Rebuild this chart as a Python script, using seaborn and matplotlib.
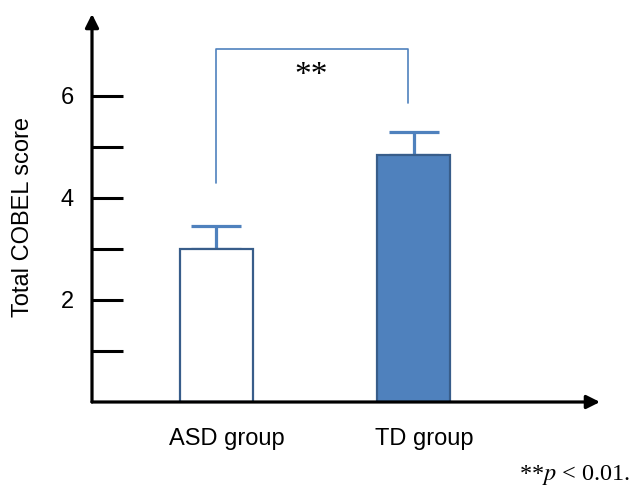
import matplotlib
matplotlib.use("Agg")
import matplotlib.pyplot as plt
import matplotlib.transforms as mtransforms
import seaborn as sns
import pandas as pd

# ---- data ----
groups = ["ASD group", "TD group"]
means = [3.0, 4.84]
errors = [0.45, 0.45]
y_major = [2, 4, 6]
y_minor = [1, 3, 5]

sns.set_theme(style="white")
plt.rcParams["font.family"] = ["Liberation Sans", "DejaVu Sans"]
plt.rcParams["mathtext.fontset"] = "stix"

df = pd.DataFrame({"group": groups, "score": means})

fig = plt.figure(figsize=(6.33, 4.86), dpi=100)
ax = fig.add_axes([92 / 633, 84 / 486, 508 / 633, 388 / 486])

sns.barplot(data=df, x="group", y="score", hue="group",
            palette=["white", "#4F81BD"], saturation=1, width=0.37,
            edgecolor="#385D8A", linewidth=1.6, errorbar=None,
            legend=False, ax=ax, zorder=2)
ax.errorbar(x=[0, 1], y=means, yerr=[[0, 0], errors], fmt="none",
            ecolor="#4F81BD", elinewidth=2.3, capsize=18, capthick=2.3,
            zorder=1)

ax.set_xlim(-0.63, 1.942)
ax.set_ylim(0, 7.6)

for s in ax.spines.values():
    s.set_visible(False)
arrow_kw = dict(arrowstyle="-|>", lw=2.3, color="black", mutation_scale=20,
                shrinkA=0, shrinkB=0)
ax.annotate("", xy=(0, 1), xytext=(0, 0), xycoords="axes fraction",
            arrowprops=arrow_kw, annotation_clip=False)
ax.annotate("", xy=(1, 0), xytext=(0, 0), xycoords="axes fraction",
            arrowprops=arrow_kw, annotation_clip=False)

ax.set_yticks(y_major)
ax.set_yticklabels([str(v) for v in y_major])
ax.set_yticks(y_minor, minor=True)
ax.tick_params(axis="y", which="both", direction="in", length=22, width=2.2,
               color="black", labelsize=17, pad=13, left=True)
ax.tick_params(axis="x", length=0, labelsize=17, pad=19)
for lab in ax.get_xticklabels():
    lab.set_color("black")
    lab.set_transform(lab.get_transform() +
                      mtransforms.ScaledTranslation(0.10, 0, fig.dpi_scale_trans))
for lab in ax.get_yticklabels():
    lab.set_color("black")

ax.set_xlabel("")
ax.set_ylabel("Total COBEL score", fontsize=17, color="black")
ax.yaxis.set_label_coords(-0.114, 0.478)

# significance bracket
ax.plot([0, 0, 0.97, 0.97], [4.29, 6.92, 6.92, 5.86], color="#4F81BD",
        lw=1.2, clip_on=False, zorder=3)
ax.text(0.48, 6.22, "**", ha="center", va="baseline", fontsize=24,
        family="Liberation Serif", color="black")

fig.text(630 / 633, 6 / 486, r"**$\mathit{p}$ < 0.01.", ha="right",
         va="baseline", fontsize=17.5, family="Liberation Serif",
         color="black")

fig.savefig("out.png", dpi=100)
